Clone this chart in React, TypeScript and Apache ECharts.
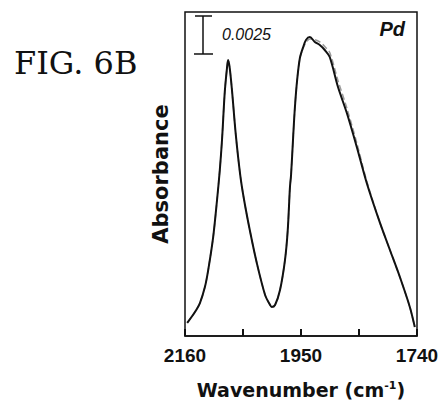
import React, { useEffect, useRef } from "react";
import * as echarts from "echarts";

const wavenumbers = [2156, 2142, 2133, 2124, 2118, 2109, 2102, 2097, 2093, 2088, 2084, 2082, 2079, 2075, 2068, 2060, 2053, 2042, 2030, 2015, 2006, 2003, 1997, 1988, 1979, 1974, 1970, 1968, 1964, 1961, 1957, 1952, 1946, 1941, 1934, 1925, 1916, 1907, 1898, 1883, 1867, 1849, 1831, 1807, 1789, 1771, 1753, 1744];
const absorbance = [0.00086, 0.00158, 0.00217, 0.00322, 0.00434, 0.00651, 0.00895, 0.01092, 0.0129, 0.01606, 0.01763, 0.01816, 0.01763, 0.01619, 0.01323, 0.01059, 0.00895, 0.00684, 0.0048, 0.0027, 0.00204, 0.00191, 0.00204, 0.00303, 0.005, 0.00697, 0.0098, 0.01059, 0.01323, 0.01507, 0.01684, 0.01829, 0.01902, 0.01948, 0.01967, 0.01935, 0.01915, 0.01882, 0.01836, 0.01638, 0.01467, 0.01244, 0.01007, 0.00744, 0.00566, 0.00388, 0.00191, 0.00059];
const fitAbsorbance = [0.00086, 0.00158, 0.00217, 0.00322, 0.00434, 0.00651, 0.00895, 0.01092, 0.0129, 0.01606, 0.01763, 0.01816, 0.01763, 0.01619, 0.01323, 0.01059, 0.00895, 0.00684, 0.0048, 0.0027, 0.00204, 0.00191, 0.00204, 0.00303, 0.005, 0.00697, 0.0098, 0.01059, 0.01323, 0.01507, 0.01684, 0.01829, 0.01895, 0.0193, 0.01955, 0.0195, 0.01935, 0.01905, 0.01865, 0.0168, 0.015, 0.0127, 0.0102, 0.00744, 0.00566, 0.00388, 0.00191, 0.00059];
const xTickValues = [2160, 2055, 1950, 1845, 1740];
const xLabelValues = [2160, 1950, 1740];
const scaleBarValue = 0.0025;
const scaleBarLabel = "0.0025";
const metalLabel = "Pd";
const figureLabel = "FIG. 6B";
const yName = "Absorbance";

export default function App() {
  const ref = useRef<HTMLDivElement>(null);
  useEffect(() => {
    if (!ref.current) return;
    const chart = echarts.init(ref.current, null, { renderer: "svg" });
    const measured = wavenumbers.map((w, i) => [w, absorbance[i]]);
    const fit = wavenumbers.map((w, i) => [w, fitAbsorbance[i]]);
    chart.setOption({
      animation: false,
      backgroundColor: "#ffffff",
      grid: { left: 185, right: 25, top: 12, bottom: 70, show: true, borderColor: "#111", borderWidth: 1.5, backgroundColor: "transparent" },
      xAxis: {
        type: "value",
        min: 1740,
        max: 2160,
        inverse: true,
        axisLine: { show: true, lineStyle: { color: "#111", width: 1.5 } },
        splitLine: { show: false },
        axisTick: { show: false },
        axisLabel: {
          customValues: xLabelValues,
          formatter: (v: number) => String(v),
          fontFamily: "Liberation Sans",
          fontWeight: "bold",
          fontSize: 19,
          color: "#111",
          margin: 10,
        },
        name: "Wavenumber (cm{sup|-1})",
        nameLocation: "middle",
        nameGap: 44,
        nameTextStyle: {
          fontFamily: "DejaVu Sans",
          fontWeight: "bold",
          fontSize: 19,
          color: "#111",
          rich: {
            sup: { fontFamily: "DejaVu Sans", fontWeight: "bold", fontSize: 11, color: "#111", padding: [0, 0, 9, 0] },
          },
        },
      },
      yAxis: {
        type: "value",
        min: 0,
        max: 0.02132,
        axisLine: { show: false },
        axisTick: { show: false },
        axisLabel: { show: false },
        splitLine: { show: false },
        name: yName,
        nameLocation: "middle",
        nameGap: 14,
        nameTextStyle: { fontFamily: "DejaVu Sans", fontWeight: "bold", fontSize: 21, color: "#111" },
      },
      series: [
        {
          type: "line",
          data: fit,
          smooth: 0.3,
          symbol: "none",
          lineStyle: { color: "#9a9a9a", width: 1.5, type: "dashed" },
          z: 2,
        },
        {
          type: "line",
          data: measured,
          smooth: 0.3,
          symbol: "none",
          lineStyle: { color: "#111", width: 2 },
          z: 3,
        },
      ],
    });
    const y0 = chart.convertToPixel({ yAxisIndex: 0 }, 0) as number;
    const y1 = chart.convertToPixel({ yAxisIndex: 0 }, scaleBarValue) as number;
    const len = Math.abs(y0 - y1);
    const top = 16;
    const cx = 203;
    const tickLines = xTickValues.map((v) => {
      const px = chart.convertToPixel({ xAxisIndex: 0 }, v) as number;
      return { type: "line", z: 100, shape: { x1: px, y1: y0, x2: px, y2: y0 - 7 }, style: { stroke: "#111", lineWidth: 2 } };
    });
    chart.setOption({
      graphic: [
        ...tickLines,
        { type: "line", shape: { x1: cx, y1: top, x2: cx, y2: top + len }, style: { stroke: "#111", lineWidth: 1.5 } },
        { type: "line", shape: { x1: cx - 8, y1: top, x2: cx + 9, y2: top }, style: { stroke: "#111", lineWidth: 1.5 } },
        { type: "line", shape: { x1: cx - 9, y1: top + len, x2: cx + 10, y2: top + len }, style: { stroke: "#111", lineWidth: 1.5 } },
        { type: "text", x: 222, y: 34, style: { text: scaleBarLabel, fontFamily: "Liberation Sans", fontStyle: "italic", fontSize: 16, fill: "#111", verticalAlign: "middle" } },
        { type: "text", x: 405, y: 29, style: { text: metalLabel, fontFamily: "Liberation Sans", fontStyle: "italic", fontWeight: "bold", fontSize: 20, fill: "#111", align: "right", verticalAlign: "middle" } },
        { type: "text", x: 14, y: 63, style: { text: figureLabel, fontFamily: "DejaVu Serif", fontSize: 32, fill: "#111", verticalAlign: "middle" } },
      ],
    });
    return () => chart.dispose();
  }, []);
  return <div ref={ref} style={{ position: "fixed", left: 0, top: 0, width: 442, height: 406, background: "#fff" }} />;
}
